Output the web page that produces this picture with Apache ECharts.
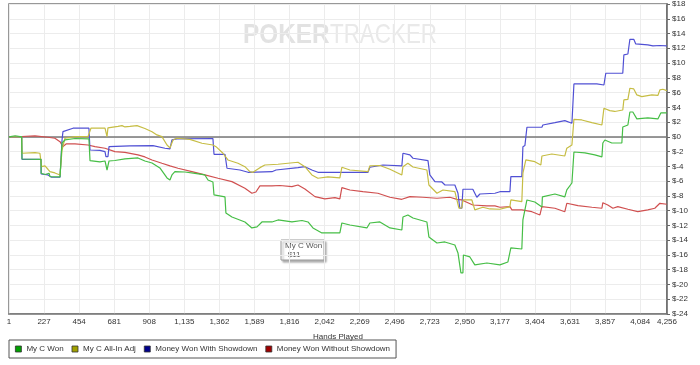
<!DOCTYPE html>
<html>
<head>
<meta charset="utf-8">
<script src="https://cdn.jsdelivr.net/npm/echarts@6/dist/echarts.min.js"></script>
<style>
html,body{margin:0;padding:0;background:#fff;}
#chart{width:700px;height:365px;}
</style>
</head>
<body>
<div id="chart"></div>
<script>
// ---- data (hand number, dollars) ----
const seriesNames = ['My C Won', 'My C All-In Adj', 'Money Won With Showdown', 'Money Won Without Showdown'];
const xTickLabels = ['1','227','454','681','908','1,135','1,362','1,589','1,816','2,042','2,269','2,496','2,723','2,950','3,177','3,404','3,631','3,857','4,084','4,256'];
const xMax = 4256;
const xStep = 226.8;
const yMin = -24, yMax = 18, yStep = 2;

const myCWon = [[0,0],[40,0.15],[82,0],[84,-3.0],[207,-3.04],[208,-4.93],[233,-5.1],[259,-4.93],[265,-5.39],[330,-5.43],[343,-0.83],[362,-0.42],[427,-0.22],[517,-0.28],[524,-3.22],[588,-3.4],[621,-3.27],[634,-4.49],[647,-3.27],[685,-3.2],[750,-2.99],[834,-2.86],[879,-3.27],[925,-3.54],[976,-4.21],[1022,-5.57],[1041,-5.84],[1054,-5.16],[1073,-4.72],[1138,-4.76],[1203,-4.96],[1267,-5.16],[1287,-5.84],[1319,-6.11],[1326,-7.87],[1397,-8.14],[1403,-10.31],[1442,-10.85],[1526,-11.53],[1571,-12.34],[1604,-12.2],[1636,-11.53],[1701,-11.53],[1740,-11.26],[1830,-11.53],[1895,-11.33],[1934,-11.53],[1966,-12.34],[2024,-13.02],[2140,-13.02],[2153,-11.67],[2205,-11.94],[2315,-12.34],[2334,-11.67],[2399,-11.53],[2464,-12.34],[2541,-12.62],[2548,-10.85],[2580,-10.58],[2613,-10.99],[2703,-11.53],[2716,-13.56],[2768,-14.38],[2819,-14.24],[2884,-14.65],[2904,-15.73],[2923,-18.44],[2936,-18.44],[2939,-16.0],[2981,-16.27],[3013,-17.35],[3091,-17.09],[3175,-17.35],[3227,-16.95],[3246,-15.05],[3317,-15.19],[3324,-11.26],[3350,-8.55],[3401,-8.82],[3447,-9.5],[3450,-8.14],[3531,-7.74],[3595,-8.14],[3608,-7.19],[3641,-6.25],[3654,-2.05],[3725,-2.18],[3789,-2.45],[3835,-2.72],[3841,-0.83],[3854,-0.42],[3899,-0.83],[3964,-0.83],[3970,1.34],[4003,1.61],[4016,3.37],[4035,3.37],[4061,2.43],[4132,2.56],[4197,2.43],[4216,3.24],[4255,3.24]];

const myCAllInAdj = [[0,0],[82,0],[84,-2.22],[168,-2.14],[200,-2.22],[211,-4.04],[233,-3.94],[252,-4.39],[265,-4.72],[297,-4.89],[330,-5.16],[343,-1.78],[362,-0.19],[427,0.03],[511,0.03],[530,1.17],[621,1.17],[634,0.03],[640,1.21],[705,1.41],[731,1.52],[750,1.34],[782,1.41],[828,1.52],[879,1.14],[925,0.7],[957,0.26],[989,0.03],[1022,-1.1],[1041,-1.5],[1061,-0.42],[1086,-0.19],[1170,-0.35],[1248,-0.87],[1319,-1.1],[1339,-1.33],[1384,-2.22],[1416,-3.13],[1481,-3.58],[1526,-4.04],[1558,-4.72],[1578,-4.8],[1623,-4.17],[1655,-3.81],[1740,-3.71],[1869,-3.44],[1914,-4.04],[1959,-5.16],[1998,-5.61],[2063,-5.43],[2140,-5.57],[2153,-4.12],[2205,-4.49],[2322,-4.72],[2334,-3.94],[2399,-3.88],[2464,-4.39],[2541,-5.16],[2548,-4.04],[2580,-3.58],[2613,-4.08],[2703,-4.49],[2716,-6.52],[2768,-7.64],[2807,-7.2],[2884,-7.43],[2910,-9.67],[2929,-9.63],[2936,-8.55],[2994,-8.55],[3013,-9.9],[3065,-9.54],[3110,-9.77],[3175,-9.81],[3240,-9.46],[3246,-8.55],[3317,-8.78],[3324,-4.93],[3343,-3.13],[3401,-3.36],[3440,-3.81],[3447,-2.59],[3511,-2.32],[3595,-2.59],[3608,-1.54],[3641,-1.1],[3654,2.38],[3705,2.29],[3770,1.92],[3835,1.61],[3848,3.88],[3886,3.55],[3918,3.44],[3970,3.64],[3977,5.0],[4003,5.09],[4016,6.59],[4041,6.49],[4061,5.68],[4093,5.45],[4158,5.68],[4197,5.61],[4210,6.36],[4229,6.45],[4255,6.26]];

const wonWithShowdown = [[0,0],[82,0],[84,-3.04],[207,-3.04],[208,-5.03],[252,-5.16],[276,-5.47],[330,-5.47],[343,-0.42],[349,0.7],[414,1.17],[517,1.17],[524,-1.78],[588,-1.84],[621,-2.0],[627,-2.68],[640,-2.68],[647,-1.33],[782,-1.23],[931,-1.19],[1009,-1.54],[1041,-1.64],[1054,-0.42],[1086,-0.28],[1319,-0.22],[1326,-2.36],[1397,-2.36],[1410,-4.25],[1494,-4.49],[1546,-4.8],[1701,-4.72],[1727,-4.49],[1869,-4.17],[1914,-4.04],[1959,-4.49],[1998,-4.8],[2322,-4.8],[2334,-4.12],[2419,-3.81],[2541,-3.94],[2548,-2.22],[2593,-2.45],[2613,-2.9],[2710,-3.22],[2722,-5.16],[2755,-6.07],[2800,-6.11],[2820,-6.52],[2884,-6.52],[2904,-7.64],[2916,-9.67],[2929,-9.67],[2936,-7.1],[3000,-7.1],[3026,-8.18],[3046,-7.74],[3143,-7.64],[3175,-7.43],[3240,-7.43],[3246,-5.39],[3317,-5.39],[3324,-1.33],[3337,-1.17],[3350,1.3],[3447,1.3],[3453,1.61],[3531,1.92],[3595,2.2],[3641,1.84],[3654,7.17],[3802,7.17],[3809,7.03],[3848,7.03],[3860,8.62],[3970,8.62],[3977,11.1],[4003,11.23],[4016,13.22],[4041,13.22],[4054,12.59],[4132,12.45],[4165,12.32],[4210,12.38],[4255,12.32]];

const wonWithoutShowdown = [[0,0],[82,0.05],[168,0.12],[252,-0.05],[297,-0.19],[330,-0.65],[349,-1.33],[369,-0.96],[427,-0.96],[511,-1.1],[556,-1.33],[621,-1.54],[685,-2.0],[750,-2.11],[834,-2.45],[879,-2.72],[925,-3.13],[989,-3.58],[1041,-3.94],[1093,-4.25],[1183,-4.72],[1267,-5.16],[1352,-5.61],[1442,-6.07],[1526,-6.96],[1571,-7.64],[1597,-7.47],[1623,-6.65],[1701,-6.65],[1752,-6.59],[1830,-6.75],[1869,-6.52],[1914,-7.06],[1979,-8.1],[2043,-8.41],[2108,-8.24],[2140,-8.41],[2153,-6.88],[2205,-7.2],[2289,-7.43],[2386,-7.64],[2464,-8.18],[2541,-8.46],[2593,-8.1],[2677,-8.18],[2768,-8.32],[2852,-8.18],[2897,-8.46],[2929,-8.55],[3000,-9.23],[3091,-9.36],[3143,-9.36],[3175,-9.54],[3240,-9.46],[3253,-9.9],[3317,-9.9],[3382,-10.14],[3434,-10.58],[3447,-9.46],[3531,-9.67],[3595,-10.14],[3608,-9.0],[3680,-9.32],[3770,-9.54],[3835,-9.67],[3841,-8.92],[3873,-9.23],[3906,-9.67],[3938,-9.46],[4003,-9.81],[4067,-10.14],[4132,-9.9],[4177,-9.67],[4210,-9.0],[4255,-9.13]];

const tooltipLines = ['My C Won', '-$11'];

// ---- chart ----
const FONT = '"Liberation Sans", Arial, sans-serif';
const lineColors = ['#46be46', '#c6bd44', '#5050d4', '#d05050'];
const legendColors = ['#00a000', '#a0a000', '#00008c', '#a00000'];
const seriesData = [myCWon, myCAllInAdj, wonWithShowdown, wonWithoutShowdown];

const chart = echarts.init(document.getElementById('chart'), null, {renderer: 'canvas'});

const drawOrder = [3, 2, 1, 0];
const series = drawOrder.map(function (i, k) {
  const s = {
    name: seriesNames[i],
    type: 'line',
    data: seriesData[i],
    showSymbol: false,
    symbol: 'none',
    smooth: false,
    lineStyle: {color: lineColors[i], width: 1.2},
    itemStyle: {color: lineColors[i]},
    emphasis: {disabled: true},
    z: 3 + k
  };
  if (k === 0) {
    s.markLine = {
      silent: true,
      symbol: 'none',
      label: {show: false},
      lineStyle: {color: '#777', width: 1.5, type: 'solid'},
      data: [{yAxis: 0}],
      z: 1
    };
  }
  return s;
});

const option = {
  backgroundColor: '#fff',
  animation: false,
  textStyle: {fontFamily: FONT},
  grid: {left: 9, right: 33, top: 4, bottom: 51, containLabel: false, outerBoundsMode: 'none', show: true, borderColor: '#777', borderWidth: 1.5, backgroundColor: 'transparent'},
  legend: {
    left: 9, top: 340,
    orient: 'horizontal',
    icon: 'rect',
    itemWidth: 6, itemHeight: 6,
    itemGap: 8,
    padding: [5, 6, 5, 6],
    borderColor: '#555', borderWidth: 1,
    selectedMode: false,
    textStyle: {fontSize: 8, color: '#333', fontFamily: FONT},
    data: seriesNames.map(function (n, i) {
      return {name: n, icon: 'rect', itemStyle: {color: legendColors[i], borderColor: '#333', borderWidth: 0.8}};
    })
  },
  xAxis: {
    type: 'value',
    min: 0, max: xMax, interval: xStep,
    name: 'Hands Played',
    nameLocation: 'middle',
    nameGap: 19,
    nameTextStyle: {fontSize: 8, color: '#333', fontFamily: FONT},
    axisLine: {show: true, onZero: false, lineStyle: {color: '#777', width: 1.5}},
    axisTick: {show: false},
    minorTick: {show: false},
    axisLabel: {
      fontSize: 8, color: '#333', margin: 4, fontFamily: FONT,
      showMinLabel: true, showMaxLabel: true,
      formatter: function (v) {
        if (v >= xMax - 1) return xTickLabels[xTickLabels.length - 1];
        const i = Math.round(v / xStep);
        return xTickLabels[i] !== undefined ? xTickLabels[i] : '';
      }
    },
    splitLine: {show: true, lineStyle: {color: '#ececec', width: 1}}
  },
  yAxis: {
    type: 'value',
    position: 'right',
    min: yMin, max: yMax, interval: yStep,
    name: '$',
    nameLocation: 'middle',
    nameGap: 26,
    nameRotate: -90,
    nameTextStyle: {fontSize: 8, color: '#333', fontFamily: FONT},
    axisLine: {show: true, onZero: false, lineStyle: {color: '#666', width: 1.5}},
    axisTick: {show: true, inside: false, length: 3, lineStyle: {color: '#666'}},
    minorTick: {show: false},
    axisLabel: {
      fontSize: 8, color: '#333', margin: 5, fontFamily: FONT,
      formatter: function (v) { return '$' + v; }
    },
    splitLine: {show: true, lineStyle: {color: '#ececec', width: 1}}
  },
  graphic: [
    {
      type: 'text', x: 243, y: 35.5, scaleX: 0.87, silent: true, z: 0,
      style: {text: 'POKER', fontSize: 28, fontWeight: 'bold', fontFamily: FONT, fill: '#e2e2e2', verticalAlign: 'middle', align: 'left'}
    },
    {
      type: 'text', x: 330, y: 35.5, scaleX: 0.8, silent: true, z: 0,
      style: {text: 'TRACKER', fontSize: 28, fontFamily: FONT, fill: '#e9e9e9', verticalAlign: 'middle', align: 'left'}
    },
    {
      type: 'group', z: 100,
      children: [
        {type: 'rect', shape: {x: 281, y: 240, width: 43, height: 20},
         style: {fill: '#fff', stroke: '#9a9a9a', lineWidth: 1, shadowBlur: 2, shadowOffsetX: 2, shadowOffsetY: 2, shadowColor: 'rgba(0,0,0,0.3)'}},
        {type: 'text', x: 285, y: 245.5, style: {text: tooltipLines[0], fontSize: 8, fontFamily: FONT, fill: '#555', verticalAlign: 'middle'}},
        {type: 'text', x: 285, y: 254.5, style: {text: tooltipLines[1], fontSize: 8, fontFamily: FONT, fill: '#555', verticalAlign: 'middle'}}
      ]
    }
  ],
  series: series
};

chart.setOption(option);
</script>
</body>
</html>
